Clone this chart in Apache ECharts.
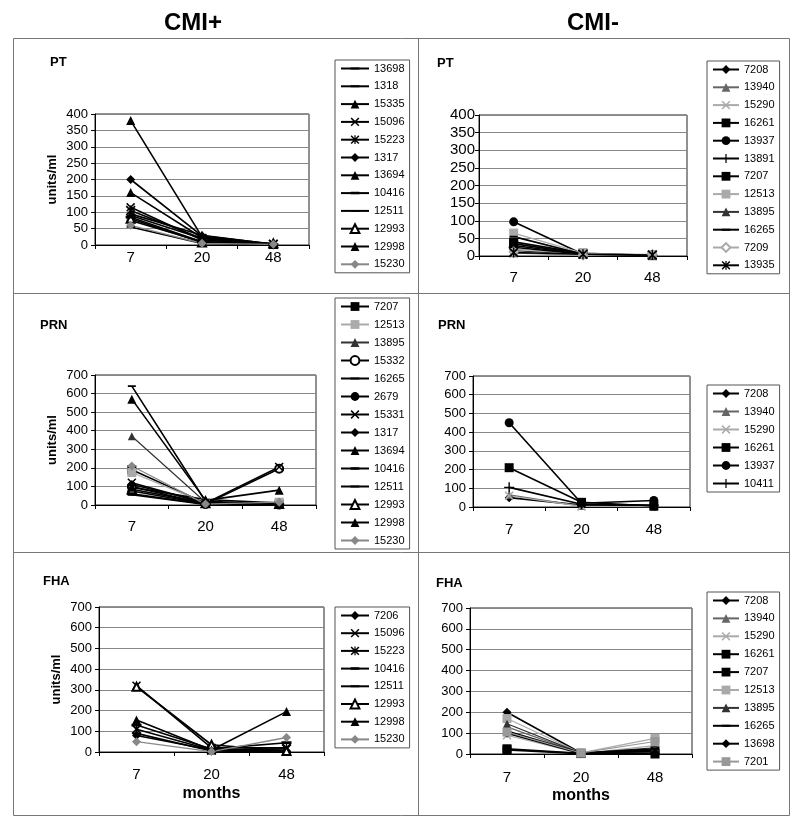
<!DOCTYPE html>
<html><head><meta charset="utf-8">
<script src="https://cdn.jsdelivr.net/npm/echarts@6/dist/echarts.min.js"></script>
<style>html,body{margin:0;padding:0;background:#fff}#c{width:800px;height:827px}</style>
</head><body><div id="c"></div>
<script>
// ---------- DATA ----------
const months = ['7', '20', '48'];
const columnHeads = ['CMI+', 'CMI-'];
const antigens = ['PT', 'PRN', 'FHA'];
const yName = 'units/ml';
const xName = 'months';

// PT, CMI+
const ptPlusIds = ['13698','1318','15335','15096','15223','1317','13694','10416','12511','12993','12998','15230'];
const ptPlusValues = [
  [90,20,2],[75,10,1],[380,25,2],[115,15,3],[105,20,2],[200,28,3],
  [160,22,2],[85,10,1],[55,5,1],[80,8,5],[95,30,2],[60,5,2]
];
// PT, CMI-
const ptMinusIds = ['7208','13940','15290','16261','13937','13891','7207','12513','13895','16265','7209','13935'];
const ptMinusValues = [
  [30,5,2],[8,3,2],[20,5,5],[40,8,2],[97,5,2],[25,5,3],
  [35,6,1],[65,8,3],[15,3,2],[55,5,2],[12,2,5],[10,5,3]
];
// PRN, CMI+
const prnPlusIds = ['7207','12513','13895','15332','16265','2679','15331','1317','13694','10416','12511','12993','12998','15230'];
const prnPlusValues = [
  [190,10,5],[175,10,15],[370,15,10],[100,5,195],[640,20,5],[75,5,0],[120,10,205],
  [110,15,5],[570,25,80],[60,5,2],[55,3,0],[85,10,5],[95,30,10],[210,5,15]
];
// PRN, CMI-
const prnMinusIds = ['7208','13940','15290','16261','13937','10411'];
const prnMinusValues = [
  [50,10,5],[65,5,0],[60,3,2],[210,25,5],[450,20,35],[105,15,10]
];
// FHA, CMI+
const fhaPlusIds = ['7206','15096','15223','10416','12511','12993','12998','15230'];
const fhaPlusValues = [
  [80,10,5],[320,20,20],[110,10,15],[130,15,45],[90,5,0],[315,35,5],[155,10,195],[50,2,70]
];
// FHA, CMI-
const fhaMinusIds = ['7208','13940','15290','16261','7207','12513','13895','16265','13698','7201'];
const fhaMinusValues = [
  [200,5,20],[130,3,10],[90,2,40],[20,2,15],[25,3,0],[170,5,75],[145,4,30],[110,5,25],[100,3,5],[105,5,60]
];

// ---------- STYLES ----------
const ptPlusMarks   = ['dash','dash','tri','x','ast','dia','tri','dashT','dash','otri','tri','gdia'];
const ptMinusMarks  = ['dia','gtri','lx','sq','circ','plus','sq','lsq','dtri','dash','ldia','ast'];
const prnPlusMarks  = ['sq','lsq','dtri','ocirc','dash','circ','x','dia','tri','dashT','dash','otri','tri','gdia'];
const prnMinusMarks = ['dia','gtri','lx','sq','circ','plus'];
const fhaPlusMarks  = ['dia','x','ast','dashT','dash','otri','tri','gdia'];
const fhaMinusMarks = ['dia','gtri','lx','sq','sq','lsq','dtri','dash','dia','gsq'];

const XP = 'path://M0,1.2L1.2,0L5,3.8L8.8,0L10,1.2L6.2,5L10,8.8L8.8,10L5,6.2L1.2,10L0,8.8L3.8,5Z';
const AST = 'path://M0,1.2L1.2,0L5,3.8L8.8,0L10,1.2L6.2,5L10,8.8L8.8,10L5,6.2L1.2,10L0,8.8L3.8,5ZM4.3,0L5.7,0L5.7,10L4.3,10Z';
const PLUS = 'path://M4.3,0H5.7V4.3H10V5.7H5.7V10H4.3V5.7H0V4.3H4.3Z';
// horizontal bar inside a square bounding box (tiny corner points keep it square)
const DASH = 'path://M0,0H0.01V0.01H0ZM0,3.9H10V6.1H0ZM9.99,9.99H10V10H9.99Z';
const DASHT = 'path://M0,0H0.01V0.01H0ZM0,3.6H10V6.4H0ZM9.99,9.99H10V10H9.99Z';

const STY = {
  dash:  {symbol: DASH, size: 8, color: '#000'},
  dashT: {symbol: DASHT, size: 10, color: '#000'},
  tri:   {symbol: 'triangle', size: 9, color: '#000'},
  gtri:  {symbol: 'triangle', size: 8, color: '#666', w: 1.2},
  dtri:  {symbol: 'triangle', size: 8, color: '#333', w: 1.2},
  otri:  {symbol: 'emptyTriangle', size: 8, color: '#000'},
  x:     {symbol: XP, size: 9, color: '#000'},
  lx:    {symbol: XP, size: 9, color: '#aaa', w: 1.2},
  ast:   {symbol: AST, size: 10, color: '#000'},
  dia:   {symbol: 'diamond', size: 9, color: '#000'},
  gdia:  {symbol: 'diamond', size: 9, color: '#888', w: 1.3},
  ldia:  {symbol: 'emptyDiamond', size: 8, color: '#aaa', w: 1.2},
  sq:    {symbol: 'rect', size: 9, color: '#000'},
  lsq:   {symbol: 'rect', size: 9, color: '#aaa', w: 1.2},
  gsq:   {symbol: 'rect', size: 9, color: '#999', w: 1.2},
  circ:  {symbol: 'circle', size: 9, color: '#000'},
  ocirc: {symbol: 'emptyCircle', size: 8, color: '#000'},
  plus:  {symbol: PLUS, size: 10, color: '#000'}
};

const FONT = '"Liberation Sans", Arial, sans-serif';

const panels = [
  {ids: ptPlusIds,  vals: ptPlusValues,  marks: ptPlusMarks,  max: 400, step: 50,  grid: {left: 95,  top: 114, width: 214, height: 131}, leg: {left: 335, top: 60,  gap: 6.8, iw: 28}, xm: 5,  yfs: 13, ym: 7, yname: true,  xname: false, title: {x: 45, y: 58}},
  {ids: ptMinusIds, vals: ptMinusValues, marks: ptMinusMarks, max: 400, step: 50,  grid: {left: 479, top: 115, width: 208, height: 141}, leg: {left: 707, top: 61,  gap: 6.8, iw: 26}, xm: 14, yfs: 15, ym: 4, yname: false, xname: false, title: {x: 432, y: 59}},
  {ids: prnPlusIds, vals: prnPlusValues, marks: prnPlusMarks, max: 700, step: 100, grid: {left: 95,  top: 375, width: 221, height: 130}, leg: {left: 335, top: 298, gap: 7,   iw: 28}, xm: 14, yfs: 13, ym: 7, yname: true,  xname: false, title: {x: 35, y: 321}},
  {ids: prnMinusIds,vals: prnMinusValues,marks: prnMinusMarks,max: 700, step: 100, grid: {left: 473, top: 376, width: 217, height: 131}, leg: {left: 707, top: 385, gap: 7,   iw: 26}, xm: 15, yfs: 13, ym: 7, yname: false, xname: false, title: {x: 433, y: 321}},
  {ids: fhaPlusIds, vals: fhaPlusValues, marks: fhaPlusMarks, max: 700, step: 100, grid: {left: 99,  top: 607, width: 225, height: 145}, leg: {left: 335, top: 607, gap: 6.7, iw: 28}, xm: 15, yfs: 13, ym: 7, yname: true,  xname: true,  title: {x: 38, y: 577}},
  {ids: fhaMinusIds,vals: fhaMinusValues,marks: fhaMinusMarks,max: 700, step: 100, grid: {left: 470, top: 608, width: 222, height: 146}, leg: {left: 707, top: 592, gap: 6.9, iw: 26}, xm: 16, yfs: 13, ym: 7, yname: false, xname: true,  title: {x: 431, y: 579}}
];
const panelTitles = [antigens[0], antigens[0], antigens[1], antigens[1], antigens[2], antigens[2]];

const grids = [], xAxes = [], yAxes = [], legends = [], series = [], titles = [];
panels.forEach((p, pi) => {
  grids.push(Object.assign({show: true, borderColor: '#222', borderWidth: 1, backgroundColor: '#fff'}, p.grid));
  xAxes.push({
    type: 'category', gridIndex: pi, data: months, boundaryGap: true,
    axisLine: {lineStyle: {color: '#000', width: 1}},
    axisTick: {show: true, length: 4, lineStyle: {color: '#000'}},
    axisLabel: {fontSize: 15, color: '#000', fontFamily: FONT, margin: p.xm},
    name: p.xname ? xName : '', nameLocation: 'middle', nameGap: 34,
    nameTextStyle: {fontSize: 16, fontWeight: 'bold', color: '#000', fontFamily: FONT}
  });
  yAxes.push({
    type: 'value', gridIndex: pi, min: 0, max: p.max, interval: p.step,
    axisLine: {show: true, lineStyle: {color: '#000', width: 1}},
    axisTick: {show: true, length: 4, lineStyle: {color: '#000'}},
    axisLabel: {fontSize: p.yfs, color: '#000', fontFamily: FONT, margin: p.ym},
    splitLine: {show: true, lineStyle: {color: '#888', width: 1}},
    name: p.yname ? yName : '', nameLocation: 'middle', nameGap: 36,
    nameTextStyle: {fontSize: 13, fontWeight: 'bold', color: '#000', fontFamily: FONT}
  });
  legends.push({
    orient: 'vertical', left: p.leg.left, top: p.leg.top,
    data: p.ids.map(id => pi + '|' + id),
    formatter: n => n.split('|')[1],
    selectedMode: false, itemWidth: p.leg.iw, itemHeight: 11, itemGap: p.leg.gap,
    padding: [3, 5], borderColor: '#555', borderWidth: 1, backgroundColor: '#fff',
    textStyle: {fontSize: 11, color: '#000', fontFamily: FONT}
  });
  titles.push({
    text: panelTitles[pi], left: p.title.x, top: p.title.y - 7,
    textStyle: {fontSize: 13, fontWeight: 'bold', color: '#000', fontFamily: FONT}
  });
  p.ids.forEach((id, i) => {
    const s = STY[p.marks[i]];
    series.push({
      type: 'line', name: pi + '|' + id, xAxisIndex: pi, yAxisIndex: pi,
      data: p.vals[i], symbol: s.symbol, symbolSize: s.size,
      showSymbol: true, showAllSymbol: true, animation: false, silent: true,
      lineStyle: {color: s.color, width: s.w || 1.6},
      itemStyle: {color: s.color},
      emphasis: {disabled: true}
    });
  });
});
titles.push({text: columnHeads[0], left: 188, top: 6, textAlign: 'center',
  textStyle: {fontSize: 24, fontWeight: 'bold', color: '#000', fontFamily: FONT}});
titles.push({text: columnHeads[1], left: 588, top: 6, textAlign: 'center',
  textStyle: {fontSize: 24, fontWeight: 'bold', color: '#000', fontFamily: FONT}});

const chart = echarts.init(document.getElementById('c'), null, {renderer: 'canvas'});
chart.setOption({
  backgroundColor: '#fff',
  animation: false,
  title: titles,
  grid: grids,
  xAxis: xAxes,
  yAxis: yAxes,
  legend: legends,
  series: series,
  graphic: [
    {type: 'rect', silent: true, z: -1, shape: {x: 13.5, y: 38.5, width: 776, height: 777}, style: {fill: 'none', stroke: '#777', lineWidth: 1}},
    {type: 'line', silent: true, z: -1, shape: {x1: 418.5, y1: 38.5, x2: 418.5, y2: 815.5}, style: {stroke: '#777', lineWidth: 1}},
    {type: 'line', silent: true, z: -1, shape: {x1: 13.5, y1: 293.5, x2: 789.5, y2: 293.5}, style: {stroke: '#777', lineWidth: 1}},
    {type: 'line', silent: true, z: -1, shape: {x1: 13.5, y1: 552.5, x2: 789.5, y2: 552.5}, style: {stroke: '#777', lineWidth: 1}}
  ]
});
</script></body></html>
